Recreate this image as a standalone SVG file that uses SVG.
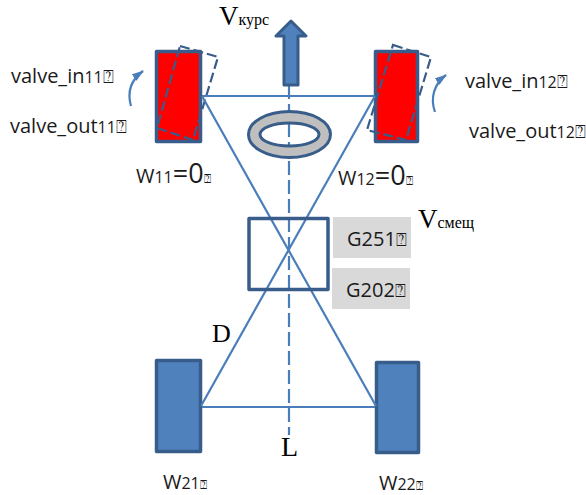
<svg xmlns="http://www.w3.org/2000/svg" width="586" height="495" viewBox="0 0 586 495">
<style>
.wheel{stroke:#385d8a;stroke-width:3.5;stroke-linejoin:round}
.dash{fill:none;stroke:#385d8a;stroke-width:2.200;stroke-dasharray:10 4}
.line{fill:none;stroke:#4a7ebb;stroke-width:2.200}
.t{font-family:"Open Sans",sans-serif;font-size:20px;fill:#1a1a1a}
.sub{font-size:16px}
.big{font-size:27px}
.tofu{font-family:"DejaVu Sans",sans-serif;font-size:18px}
.tofus{font-family:"DejaVu Sans",sans-serif;font-size:12px}
.s{font-family:"Liberation Serif",serif;fill:#000}
.gray{fill:#d9d9d9}
</style>
<defs><marker id="ah" markerWidth="14" markerHeight="10" refX="11" refY="4" orient="auto" markerUnits="userSpaceOnUse"><path d="M0 0L12 4L0 8Z" fill="#4a7ebb"/></marker></defs>
<g id="wheel11"><rect class="wheel" x="156.500" y="51.500" width="44" height="90" fill="#f00"/><polygon class="dash" points="180,46 218,57 193,140 157,128"/></g>
<g id="wheel12"><rect class="wheel" x="375.500" y="51.500" width="42" height="90" fill="#f00"/><polygon class="dash" points="393,45 431,57 406,140 367,130"/></g>
<g id="wheel21"><rect class="wheel" x="156.500" y="360.500" width="44" height="91" fill="#4f81bd"/></g>
<g id="wheel22"><rect class="wheel" x="376.500" y="362.500" width="42" height="90" fill="#4f81bd"/></g>
<g id="connectors">
<path class="line" d="M202 96H375M202 407H375M202 96L376 406M375 96L201 406"/>
<path class="line" d="M289 85V435" stroke-dasharray="14 5"/>
<path class="line" d="M131 106C127 92 131 80 143 71" marker-end="url(#ah)"/>
<path class="line" d="M435 112C430 98 434 84 446 75" marker-end="url(#ah)"/>
</g>
<g id="arrow"><path d="M291 21L306 36H298V85H284V36H276Z" fill="#4f81bd" stroke="#385d8a" stroke-width="3" stroke-linejoin="round"/></g>
<g id="ring"><path fill-rule="evenodd" d="M248.500 134.500a41 23 0 1 0 82 0a41 23 0 1 0 -82 0ZM260 134.500a29.500 11.500 0 1 1 59 0a29.500 11.500 0 1 1 -59 0Z" fill="#bfbfbf" stroke="#385d8a" stroke-width="3"/></g>
<g id="square"><rect x="249" y="218.500" width="79" height="71" fill="none" stroke="#385d8a" stroke-width="3.500" stroke-linejoin="round"/></g>
<g id="g251"><rect class="gray" x="333" y="217" width="78" height="41"/><text class="t" x="347" y="246">G251<tspan class="tofu">⍰</tspan></text></g>
<g id="g202"><rect class="gray" x="332" y="268" width="78" height="41"/><text class="t" x="346" y="297">G202<tspan class="tofu">⍰</tspan></text></g>
<g id="labels">
<text class="t" x="11" y="83">valve_in<tspan class="sub">11</tspan><tspan class="tofu">⍰</tspan></text>
<text class="t" x="10" y="133">valve_out<tspan class="sub">11</tspan><tspan class="tofu">⍰</tspan></text>
<text class="t" x="465" y="88">valve_in<tspan class="sub">12</tspan><tspan class="tofu">⍰</tspan></text>
<text class="t" x="469" y="138">valve_out<tspan class="sub">12</tspan><tspan class="tofu">⍰</tspan></text>
<text class="t" x="136" y="183">W<tspan class="sub">11</tspan><tspan class="big">=0</tspan><tspan class="tofus">⍰</tspan></text>
<text class="t" x="338" y="185">W<tspan class="sub">12</tspan><tspan class="big">=0</tspan><tspan class="tofus">⍰</tspan></text>
<text class="t" x="163" y="489">W<tspan class="sub">21</tspan><tspan class="tofus">⍰</tspan></text>
<text class="t" x="379" y="490">W<tspan class="sub">22</tspan><tspan class="tofus">⍰</tspan></text>
<text class="s" x="219" y="25" font-size="27">V<tspan font-size="16">курс</tspan></text>
<text class="s" x="418" y="228" font-size="27">V<tspan font-size="16">смещ</tspan></text>
<text class="s" x="212" y="342" font-size="26">D</text>
<text class="s" x="281" y="456" font-size="28">L</text>
</g>
</svg>
